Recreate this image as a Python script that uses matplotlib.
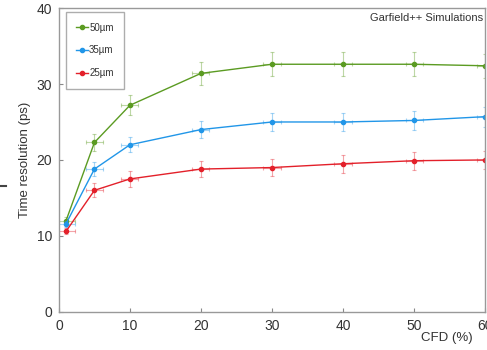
import numpy as np
import matplotlib
matplotlib.use('Agg')
import matplotlib.pyplot as plt
from matplotlib.lines import Line2D

plt.rcParams['font.family'] = ['Liberation Sans', 'DejaVu Sans']

# CFD fraction (%)
cfd = [1, 5, 10, 20, 30, 40, 50, 60]

# time resolution (ps) per thickness
res_50 = [12.0, 22.3, 27.2, 31.4, 32.6, 32.6, 32.6, 32.4]
err_50 = [0.5, 1.1, 1.3, 1.5, 1.6, 1.6, 1.6, 1.6]
res_35 = [11.6, 18.8, 22.0, 24.0, 25.0, 25.0, 25.2, 25.7]
err_35 = [0.4, 0.9, 1.0, 1.1, 1.2, 1.2, 1.3, 1.3]
res_25 = [10.6, 16.0, 17.5, 18.8, 19.0, 19.5, 19.9, 20.0]
err_25 = [0.4, 0.9, 1.0, 1.1, 1.1, 1.2, 1.2, 1.2]
cfd_err = 1.2

labels = ['50\u00b5m', '35\u00b5m', '25\u00b5m']
colors = ['#5b9b22', '#2196e8', '#e3202a']

fig = plt.figure(figsize=(4.87, 3.5), dpi=100)
ax = fig.add_axes([0.121, 0.109, 0.875, 0.868])

for y, e, c, lab in zip([res_50, res_35, res_25], [err_50, err_35, err_25], colors, labels):
    ax.errorbar(cfd, y, yerr=e, xerr=cfd_err, fmt='none', ecolor=c, alpha=0.4,
                elinewidth=0.8, capsize=1.5, capthick=0.8)
    ax.plot(cfd, y, '-o', color=c, lw=1.0, ms=3, label=lab)

ax.set_xlim(0, 60)
ax.set_ylim(0, 40)
ax.set_xticks([0, 10, 20, 30, 40, 50, 60])
ax.set_yticks([0, 10, 20, 30, 40])
ax.tick_params(direction='in', length=3, color='#888888', labelsize=10,
               labelcolor='#333333', pad=5)
for s in ax.spines.values():
    s.set_color('#999999')
    s.set_linewidth(1.0)

ax.set_ylabel('Time resolution (ps)', fontsize=9.5, color='#333333', labelpad=4)
ax.text(51.0, -3.4, 'CFD (%)', fontsize=9.5, color='#333333', va='center')
ax.text(59.7, 39.3, 'Garfield++ Simulations', fontsize=8, color='#333333',
        ha='right', va='top')

leg = ax.legend(loc='upper left', bbox_to_anchor=(0.016, 0.987), fontsize=7,
                frameon=True, fancybox=False, edgecolor='#999999',
                labelspacing=1.3, handlelength=1.2, handletextpad=0.1,
                borderpad=1.1, borderaxespad=0)
leg.get_frame().set_linewidth(1.0)
for t in leg.get_texts():
    t.set_color('#333333')

# stray dash at left edge of the original image
fig.add_artist(Line2D([0.0, 0.012], [0.47, 0.47], color='#444444', lw=1.5))

fig.savefig('out.png', dpi=100)
